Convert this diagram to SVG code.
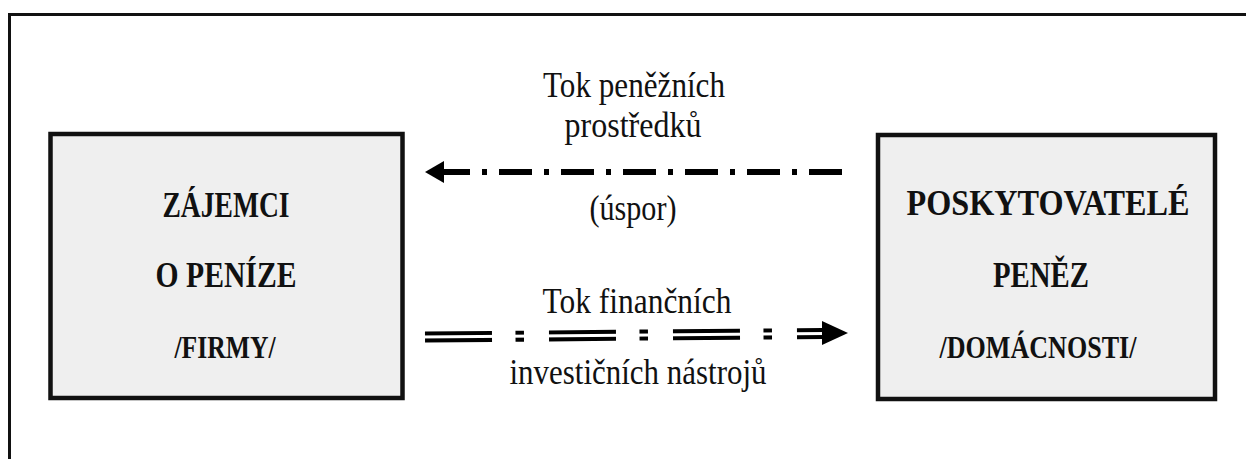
<svg xmlns="http://www.w3.org/2000/svg" width="1246" height="459" viewBox="0 0 1246 459">
<style>
.box{fill:#efefef;stroke:#111;stroke-width:4.5}
.t{font-family:"Liberation Serif","Times New Roman",serif;fill:#111;text-anchor:middle}
.lbl{font-size:36px}
.hd{font-size:35px;font-weight:bold}
.sub{font-size:31px;font-weight:bold}
</style>
<rect width="1246" height="459" fill="#fff"/>
<path d="M9.5,459 V14.5 H1246" fill="none" stroke="#111" stroke-width="3"/>
<g id="zajemci">
<rect class="box" x="50.5" y="134" width="352" height="264"/>
<text class="t hd" x="226" y="217" textLength="127" lengthAdjust="spacingAndGlyphs">ZÁJEMCI</text>
<text class="t hd" x="226" y="287" textLength="141" lengthAdjust="spacingAndGlyphs">O PENÍZE</text>
<text class="t sub" x="225" y="358" textLength="101" lengthAdjust="spacingAndGlyphs">/FIRMY/</text>
</g>
<g id="poskytovatele">
<rect class="box" x="878" y="135" width="337" height="264"/>
<text class="t hd" x="1048" y="215" textLength="283" lengthAdjust="spacingAndGlyphs">POSKYTOVATELÉ</text>
<text class="t hd" x="1041" y="287" textLength="96" lengthAdjust="spacingAndGlyphs">PENĚZ</text>
<text class="t sub" x="1038" y="358" textLength="197" lengthAdjust="spacingAndGlyphs">/DOMÁCNOSTI/</text>
</g>
<g id="connectors">
<path d="M842,172 H443" fill="none" stroke="#000" stroke-width="6" stroke-dasharray="33 12 5 12"/>
<polygon points="425,172 444,161 444,183" fill="#000"/>
<path d="M425,337 L823,333.5" fill="none" stroke="#000" stroke-width="11" stroke-dasharray="67 23.5 8.5 25"/>
<path d="M420,337 L826,333.4" fill="none" stroke="#fff" stroke-width="3"/>
<polygon points="822,321 848,333 822,345" fill="#000"/>
</g>
<g id="labels">
<text class="t lbl" x="634" y="97" textLength="182" lengthAdjust="spacingAndGlyphs">Tok peněžních</text>
<text class="t lbl" x="633" y="137" textLength="137" lengthAdjust="spacingAndGlyphs">prostředků</text>
<text class="t lbl" x="633" y="220" textLength="87" lengthAdjust="spacingAndGlyphs">(úspor)</text>
<text class="t lbl" x="637" y="313" textLength="189" lengthAdjust="spacingAndGlyphs">Tok finančních</text>
<text class="t lbl" x="638" y="384" textLength="257" lengthAdjust="spacingAndGlyphs">investičních nástrojů</text>
</g>
</svg>
